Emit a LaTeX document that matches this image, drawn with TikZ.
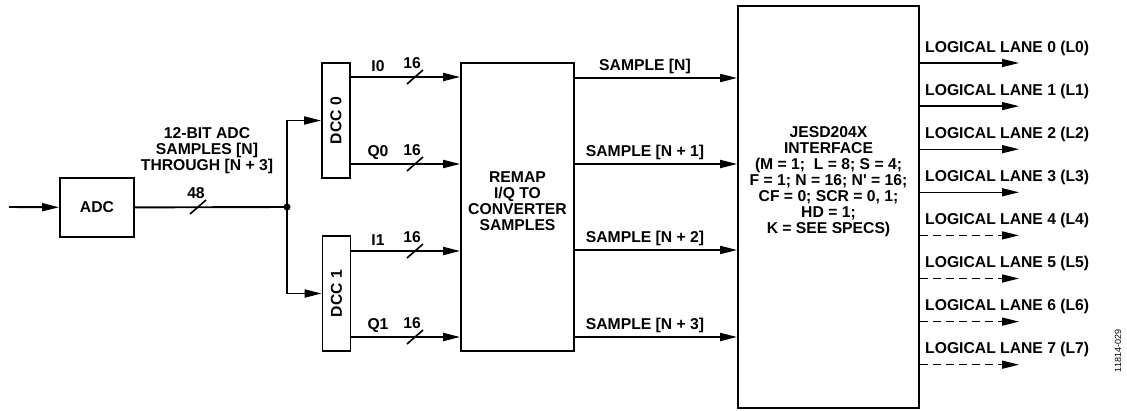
\documentclass[tikz,border=0pt]{standalone}
\usepackage{fontspec}
\setmainfont{Liberation Sans}
\usepackage{tikz}
\usetikzlibrary{positioning, arrows.meta}

\tikzset{
  blk/.style={draw, line width=1.8pt, inner sep=0pt},
  txt/.style={align=center, inner sep=0pt},
  sig/.style={line width=1.9pt, -{Triangle[length=17pt, width=8pt]}},
  lane/.style={line width=1.4pt, -{Triangle[length=17pt, width=8pt]}},
  lanedash/.style={dash pattern=on 8pt off 5pt},
  bus/.style={line width=1.6pt}
}

\begin{document}
\begin{tikzpicture}[x=1pt, y=-1pt, font=\fontsize{15.7}{16}\selectfont\bfseries]
  \useasboundingbox (0,0) rectangle (1127,410);

  \node[blk, minimum width=74pt, minimum height=59pt] (adc) at (97,207.5) {ADC};
  \node[blk, minimum width=28pt, minimum height=115pt] (dcc0) at (336,120.5) {};
  \node[blk, minimum width=28pt, minimum height=115pt] (dcc1) at (336.5,293.5) {};
  \node[txt, rotate=90] (dcc0txt) at (dcc0) {DCC 0};
  \node[txt, rotate=90] (dcc1txt) at (dcc1) {DCC 1};
  \node[blk, minimum width=113pt, minimum height=288pt] (remap) at (517.5,207) {};
  \node[txt] (remaptxt) at ([yshift=6pt]remap.center) {REMAP\\I/Q TO\\CONVERTER\\SAMPLES};
  \node[blk, minimum width=181pt, minimum height=402pt] (jesd) at (828.5,207) {};
  \node[txt] (jesdtxt) at ([yshift=25pt]jesd.center)
    {JESD204X\\INTERFACE\\(M = 1;\ \ L = 8; S = 4;\\F = 1; N = 16; N\textquotesingle{} = 16;\\CF = 0; SCR = 0, 1;\\HD = 1;\\K = SEE SPECS)};

  \coordinate (in) at (9,207);
  \coordinate (jn) at (287,207);
  \draw[sig] (in) -- (adc);
  \draw[line width=1.9pt] (adc) -- (jn);
  \fill (jn) circle (3.5pt);
  \draw[sig] (jn) |- (dcc0);
  \draw[sig] (jn) |- (dcc1);
  \draw[bus] ([shift={(-8,7)}]198,207) -- ++(16,-14);
  \node[txt] (w48) at (196,193) {48};
  \node[txt] (adclbl) at (207,151) {12-BIT ADC\\SAMPLES [N]\\THROUGH [N + 3]};

  \foreach \src/\nm/\y in {dcc0/I0/77, dcc0/Q0/164, dcc1/I1/251, dcc1/Q1/337} {
    \draw[sig] (\src.east |- 0,\y) -- (remap.west |- 0,\y);
    \draw[bus] ([shift={(-8,7)}]415,\y) -- ++(16,-14);
    \node[txt] (lbl\nm) at (378,\y-11) {\nm};
    \node[txt] (w\nm) at (412,\y-14) {16};
  }

  \foreach \k/\y/\t in {0/78/{SAMPLE [N]}, 1/164/{SAMPLE [N + 1]},
                        2/250/{SAMPLE [N + 2]}, 3/337/{SAMPLE [N + 3]}} {
    \draw[sig] (remap.east |- 0,\y) -- (jesd.west |- 0,\y);
    \node[txt] (smp\k) at (645,\y-12) {\t};
  }

  \foreach \k/\ls in {0/solid, 1/solid, 2/solid, 3/solid,
                      4/lanedash, 5/lanedash, 6/lanedash, 7/lanedash} {
    \pgfmathsetmacro\y{63+43.1*\k}
    \coordinate (l\k) at (1019,\y);
    \draw[lane, \ls] (jesd.east |- l\k) -- (l\k);
    \node[txt, anchor=west] (lane\k) at (925,\y-15) {LOGICAL LANE \k\ (L\k)};
  }

  \node[txt, font=\fontsize{9}{9}\selectfont, rotate=90] (figid) at (1118,351) {11814-029};
\end{tikzpicture}
\end{document}
